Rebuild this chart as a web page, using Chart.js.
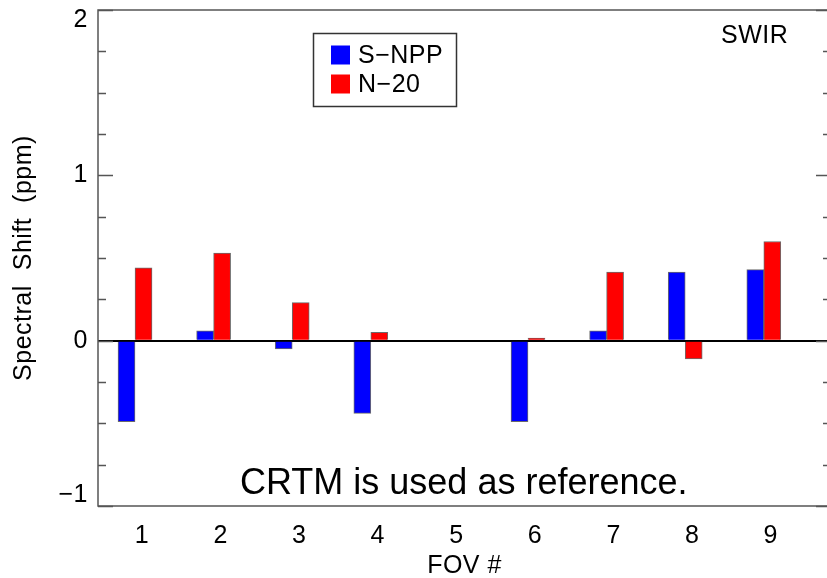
<!DOCTYPE html>
<html>
<head>
<meta charset="utf-8">
<script src="https://cdn.jsdelivr.net/npm/chart.js@4/dist/chart.umd.min.js"></script>
<style>
  html, body { margin: 0; padding: 0; background: #fff; overflow: hidden; }
  #wrap { width: 827px; height: 578px; overflow: hidden; }
</style>
</head>
<body>
<div id="wrap"><canvas id="grafico" width="836" height="578"></canvas></div>
<script>
// Datos
var fov = [1, 2, 3, 4, 5, 6, 7, 8, 9];
var snpp = [-0.49, 0.06, -0.05, -0.44, null, -0.49, 0.06, 0.415, 0.43];
var n20 = [0.44, 0.53, 0.23, 0.05, null, 0.015, 0.415, -0.11, 0.60];
var yTickLabels = { '-1': ['\u22121', ''], '0': '0', '1': '1', '2': ['', '2'] };
var seriesNames = ['S\u2212NPP', 'N\u221220'];

var fuente = "'Liberation Sans', Arial, Helvetica, sans-serif";
var gris = '#555';

// Espaciado de letras estilo IDL
var espaciado = {
  id: 'espaciado',
  beforeDraw: function (chart) {
    chart.ctx.letterSpacing = '0.5px';
  }
};

// Marco, marcas de ejes, leyenda y textos
var marco = {
  id: 'marco',
  afterDraw: function (chart) {
    var ctx = chart.ctx;
    var a = chart.chartArea;
    var y = chart.scales.y;
    ctx.save();
    ctx.strokeStyle = gris;
    ctx.lineWidth = 1.5;
    ctx.strokeRect(a.left, a.top, a.right - a.left, a.bottom - a.top);

    // marcas mayores y menores hacia dentro
    y.ticks.forEach(function (t) {
      var py = Math.round(y.getPixelForValue(t.value)) + 0.5;
      var largo = Number.isInteger(t.value) ? 15 : 8;
      ctx.beginPath();
      ctx.moveTo(a.left, py); ctx.lineTo(a.left + largo, py);
      ctx.moveTo(a.right, py); ctx.lineTo(a.right - largo, py);
      ctx.stroke();
    });

    // leyenda
    ctx.lineWidth = 1.5;
    ctx.strokeStyle = '#333';
    ctx.strokeRect(313.5, 33.5, 143, 73);
    ctx.font = '25px ' + fuente;
    ctx.textBaseline = 'middle';
    chart.data.datasets.forEach(function (ds, i) {
      var cy = 55 + i * 29;
      ctx.fillStyle = ds.backgroundColor;
      ctx.fillRect(331, cy - 9.5, 19, 19);
      ctx.fillStyle = '#000';
      ctx.fillText(ds.label, 358, cy + 1);
    });

    // etiqueta SWIR
    ctx.font = '25px ' + fuente;
    ctx.textBaseline = 'alphabetic';
    ctx.fillStyle = '#000';
    ctx.fillText('SWIR', 721, 43);

    // nota
    ctx.letterSpacing = '0px';
    ctx.font = '36px ' + fuente;
    ctx.fillText('CRTM is used as reference.', 240, 494);
    ctx.restore();
  }
};

var datos = {
  datasets: [{
    label: seriesNames[0],
    data: fov.map(function (f, i) { return { x: f, y: snpp[i] }; }),
    backgroundColor: '#0000ff',
    borderColor: 'rgba(70,70,70,0.8)',
    borderWidth: 1,
    barThickness: 17
  }, {
    label: seriesNames[1],
    data: fov.map(function (f, i) { return { x: f, y: n20[i] }; }),
    backgroundColor: '#ff0000',
    borderColor: 'rgba(70,70,70,0.8)',
    borderWidth: 1,
    barThickness: 17
  }]
};

var config = {
  type: 'bar',
  data: datos,
  options: {
    responsive: false,
    animation: false,
    layout: { padding: { top: 10, right: 5, left: 0, bottom: 0 } },
    plugins: {
      legend: { display: false },
      tooltip: { enabled: false }
    },
    scales: {
      x: {
        type: 'linear',
        offset: false,
        min: 0.529,
        max: 9.855,
        grid: { display: false, drawTicks: false },
        border: { display: false },
        ticks: {
          stepSize: 1,
          includeBounds: false,
          autoSkip: false,
          maxRotation: 0,
          padding: 15,
          labelOffset: 7,
          color: '#000',
          font: { family: fuente, size: 25 },
          callback: function (v) {
            return fov.indexOf(v) >= 0 ? String(v) : '';
          }
        },
        title: {
          display: true,
          text: 'FOV #',
          color: '#000',
          font: { family: fuente, size: 25 },
          padding: { top: 0, bottom: -3 }
        },
        afterFit: function (s) {
          s.height = 72;
          s.paddingLeft = 0;
          s.paddingRight = 0;
        }
      },
      y: {
        min: -1,
        max: 2,
        z: 1,
        grid: {
          drawTicks: false,
          lineWidth: 2,
          color: function (c) { return c.tick && c.tick.value === 0 ? '#000' : 'rgba(0,0,0,0)'; }
        },
        border: { display: false },
        ticks: {
          stepSize: 0.25,
          autoSkip: false,
          padding: 10,
          color: '#000',
          font: { family: fuente, size: 25, lineHeight: 0.84 },
          callback: function (v) {
            return yTickLabels[String(v)] || '';
          }
        },
        title: {
          display: true,
          text: 'Spectral  Shift  (ppm)',
          color: '#000',
          font: { family: fuente, size: 25 },
          padding: { top: 9, bottom: 0 }
        },
        afterFit: function (s) {
          s.width = 98;
          s.paddingTop = 0;
          s.paddingBottom = 0;
        }
      }
    }
  },
  plugins: [espaciado, marco]
};

new Chart(document.getElementById('grafico').getContext('2d'), config);
</script>
</body>
</html>
